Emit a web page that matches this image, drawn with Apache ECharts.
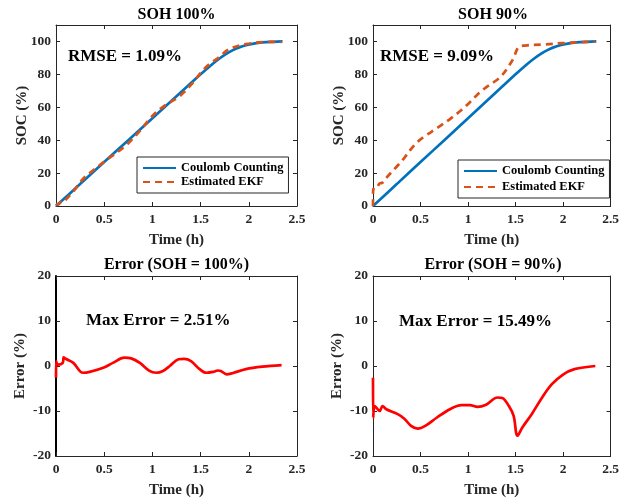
<!doctype html>
<html>
    <head>
        <meta charset="utf-8">
        <style>
            html, body { margin: 0; padding: 0; background: #fff; }
            #main { width: 622px; height: 502px; }
        </style>
    </head>
    <body>
        <div id="main"></div>
        <script src="https://cdn.jsdelivr.net/npm/echarts@6/dist/echarts.min.js"></script>
        <script>
            // Coulomb counting reference (same curve in both SOH cases)
            var ccTime = [0, 0.25, 0.5, 0.75, 1, 1.25, 1.5, 1.56, 1.63, 1.7, 1.77, 1.83, 1.9, 1.97, 2.05, 2.14, 2.25, 2.35];
            var ccSoc = [0, 13.3, 26.7, 40, 53.3, 66.7, 80, 83.1, 86.6, 89.8, 92.6, 94.6, 96.4, 97.7, 98.7, 99.4, 99.8, 100];

            // EKF estimate, SOH 100%
            var ekf100Time = [0, 0.02, 0.06, 0.075, 0.1, 0.18, 0.28, 0.35, 0.49, 0.59, 0.71, 0.78, 0.87, 0.97, 1.04, 1.11, 1.18, 1.27, 1.33, 1.4, 1.49, 1.56, 1.63, 1.68, 1.71, 1.77, 1.83, 1.97, 2.14, 2.34];
            var ekf100Soc = [1.5, 0.8, 2.6, 2.1, 3.7, 8.9, 16.4, 20, 26.5, 30.8, 36, 39.9, 45.7, 52.8, 57, 60.3, 62.9, 66.2, 69.3, 73.6, 80.2, 84.6, 87.9, 89.9, 91.3, 94.4, 96.2, 98.4, 99.55, 99.8];

            // EKF estimate, SOH 90%
            var ekf90Time = [0, 0.002, 0.02, 0.07, 0.1, 0.14, 0.26, 0.33, 0.4, 0.47, 0.55, 0.67, 0.81, 0.93, 1.02, 1.1, 1.19, 1.31, 1.36, 1.43, 1.48, 1.53, 1.6, 1.8, 2.0, 2.2, 2.34];
            var ekf90Soc = [0, 10.5, 10, 13.7, 14.2, 17.1, 24.6, 29.3, 34.6, 39, 42.6, 47.2, 52.8, 58.3, 63.1, 67.8, 72.1, 76.9, 79.6, 85.2, 90, 96.5, 97.5, 98.2, 99, 99.6, 100];

            // estimation error
            var err100Time = [0, 0.001, 0.02, 0.07, 0.08, 0.1, 0.18, 0.28, 0.35, 0.49, 0.59, 0.71, 0.78, 0.87, 0.97, 1.04, 1.11, 1.18, 1.27, 1.33, 1.4, 1.49, 1.56, 1.63, 1.68, 1.71, 1.77, 1.83, 1.97, 2.14, 2.34];
            var err100Val = [-2.6, 1.1, 0.3, 0.7, 1.9, 1.6, 0.7, -1.5, -1.3, -0.4, 0.7, 1.85, 1.7, 0.7, -1.1, -1.5, -1.1, 0, 1.5, 1.6, 1.1, -0.7, -1.5, -1.3, -1.0, -1.1, -1.85, -1.6, -0.7, -0.15, 0.2];
            var err90Time = [0, 0.002, 0.02, 0.07, 0.1, 0.14, 0.26, 0.33, 0.4, 0.47, 0.55, 0.67, 0.81, 0.93, 1.02, 1.1, 1.19, 1.31, 1.36, 1.43, 1.48, 1.52, 1.57, 1.67, 1.78, 1.88, 2.0, 2.12, 2.34];
            var err90Val = [-2.6, -11.5, -8.9, -10, -8.9, -9.6, -10.7, -11.7, -13.3, -13.9, -13.3, -11.5, -9.6, -8.7, -8.7, -9.1, -8.6, -7.0, -7.1, -8.9, -11.1, -15.5, -13.7, -10.7, -7.0, -4.1, -1.9, -0.7, 0];

            var titles = ['SOH 100%', 'SOH 90%', 'Error (SOH = 100%)', 'Error (SOH = 90%)'];
            var notes = ['RMSE = 1.09%', 'RMSE = 9.09%', 'Max Error = 2.51%', 'Max Error = 15.49%'];

            function zip(xs, ys) {
                return xs.map(function (x, i) { return [x, ys[i]]; });
            }

            var FONT = '"Liberation Serif", "Times New Roman", serif';
            var AX = '#262626';
            var grids = [
                { left: 56, top: 25, width: 241, height: 181 },
                { left: 373, top: 25, width: 240, height: 181 },
                { left: 56, top: 276, width: 241, height: 180 },
                { left: 373, top: 276, width: 240, height: 180 }
            ];

            var xAxes = [], yAxes = [];
            grids.forEach(function (g, i) {
                var soc = i < 2;
                [false, true].forEach(function (mirror) {
                    xAxes.push({
                        type: 'value', gridIndex: i, position: mirror ? 'top' : 'bottom',
                        min: 0, max: 2.5, interval: 0.5,
                        name: mirror ? '' : 'Time (h)', nameLocation: 'middle', nameGap: 27,
                        nameTextStyle: { fontFamily: FONT, fontWeight: 'bold', fontSize: 15, color: AX },
                        axisLine: { onZero: false, lineStyle: { color: AX, width: 1 } },
                        axisTick: { inside: true, length: 4, lineStyle: { color: AX } },
                        axisLabel: { show: !mirror, margin: 7, fontFamily: FONT, fontWeight: 'bold', fontSize: 13.5, color: AX },
                        splitLine: { show: false }
                    });
                    yAxes.push({
                        type: 'value', gridIndex: i, position: mirror ? 'right' : 'left',
                        min: soc ? 0 : -20, max: soc ? 110 : 20, interval: soc ? 20 : 10,
                        name: mirror ? '' : (soc ? 'SOC (%)' : 'Error (%)'), nameLocation: 'middle',
                        nameGap: soc ? 26 : 28, nameMoveOverlap: false,
                        nameTextStyle: { fontFamily: FONT, fontWeight: 'bold', fontSize: 15, color: AX },
                        axisLine: { onZero: false, lineStyle: { color: (!soc && !mirror && i === 2) ? '#000' : AX, width: (!soc && !mirror && i === 2) ? 2 : 1 } },
                        axisTick: { inside: true, length: 4, lineStyle: { color: AX } },
                        axisLabel: { show: !mirror, margin: 5, showMaxLabel: !soc, fontFamily: FONT, fontWeight: 'bold', fontSize: 13.5, color: AX },
                        splitLine: { show: false }
                    });
                });
            });

            function lineSeries(name, grid, data, color, dashed) {
                return {
                    name: name, type: 'line', xAxisIndex: grid * 2, yAxisIndex: grid * 2,
                    data: data, smooth: 0.35, symbol: 'none', clip: true,
                    lineStyle: { color: color, width: 2.7, type: dashed ? [7, 5] : 'solid' },
                    itemStyle: { color: color },
                    z: dashed ? 3 : 2
                };
            }

            var legendBase = {
                orient: 'vertical', backgroundColor: '#fff', borderColor: AX, borderWidth: 1,
                borderRadius: 0, itemWidth: 33, itemHeight: 10, itemGap: 0,
                itemStyle: { opacity: 0 },
                textStyle: { fontFamily: FONT, fontWeight: 'bold', fontSize: 12.5, color: '#000', lineHeight: 14 },
                data: ['Coulomb Counting', 'Estimated EKF']
            };

            var graphic = [];
            grids.forEach(function (g, i) {
                graphic.push({
                    type: 'text', x: g.left + g.width / 2, y: i < 2 ? 15 : 265,
                    style: { text: titles[i], font: 'bold 16px ' + FONT, fill: '#000', align: 'center', verticalAlign: 'middle' }
                });
            });
            var notePos = [[68, 57], [380, 57], [86, 321], [399, 322]];
            notes.forEach(function (t, i) {
                graphic.push({
                    type: 'text', x: notePos[i][0], y: notePos[i][1],
                    style: { text: t, font: 'bold 17px ' + FONT, fill: '#000', verticalAlign: 'middle' }
                });
            });

            var chart = echarts.init(document.getElementById('main'));
            chart.setOption({
                animation: false,
                backgroundColor: '#fff',
                grid: grids,
                xAxis: xAxes,
                yAxis: yAxes,
                legend: [
                    Object.assign({}, legendBase, { left: 137, top: 157, padding: [4, 5] }),
                    Object.assign({}, legendBase, { left: 458, top: 160, padding: [4, 5], itemGap: 2 })
                ],
                graphic: graphic,
                series: [
                    lineSeries('Coulomb Counting', 0, zip(ccTime, ccSoc), '#0072BD', false),
                    lineSeries('Estimated EKF', 0, zip(ekf100Time, ekf100Soc), '#D95319', true),
                    lineSeries('Coulomb Counting', 1, zip(ccTime, ccSoc), '#0072BD', false),
                    lineSeries('Estimated EKF', 1, zip(ekf90Time, ekf90Soc), '#D95319', true),
                    lineSeries('Error 100', 2, zip(err100Time, err100Val), '#FF0000', false),
                    lineSeries('Error 90', 3, zip(err90Time, err90Val), '#FF0000', false)
                ]
            });

            window.onresize = chart.resize;
        </script>
    </body>
</html>
